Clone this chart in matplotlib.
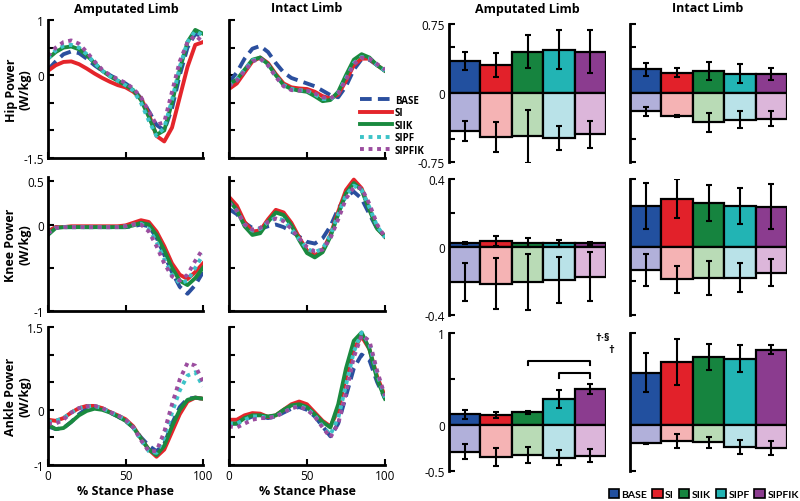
import numpy as np
import matplotlib.pyplot as plt
from matplotlib.patches import Patch

plt.rcParams['font.family'] = ['Open Sans', 'DejaVu Sans']

# data
pct = np.arange(0, 101, 5)
conds = ['BASE', 'SI', 'SIIK', 'SIPF', 'SIPFIK']

# line panels: one list per condition (BASE, SI, SIIK, SIPF, SIPFIK)
hip_amp = [
    [0.10, 0.25, 0.38, 0.43, 0.40, 0.30, 0.18, 0.08, 0.00, -0.08, -0.15, -0.25, -0.42, -0.65, -0.90, -1.00, -0.60, 0.00, 0.50, 0.75, 0.70],
    [0.08, 0.18, 0.24, 0.25, 0.20, 0.12, 0.03, -0.05, -0.12, -0.18, -0.22, -0.30, -0.42, -0.70, -1.10, -1.20, -0.95, -0.40, 0.15, 0.55, 0.60],
    [0.30, 0.42, 0.50, 0.52, 0.47, 0.36, 0.22, 0.08, -0.02, -0.10, -0.18, -0.27, -0.45, -0.75, -1.08, -1.00, -0.50, 0.10, 0.60, 0.82, 0.75],
    [0.30, 0.45, 0.53, 0.55, 0.50, 0.38, 0.22, 0.08, -0.02, -0.10, -0.18, -0.28, -0.50, -0.82, -1.10, -0.95, -0.45, 0.15, 0.60, 0.80, 0.72],
    [0.35, 0.50, 0.60, 0.63, 0.57, 0.42, 0.25, 0.10, 0.00, -0.07, -0.14, -0.24, -0.40, -0.65, -0.90, -0.85, -0.30, 0.25, 0.60, 0.72, 0.60],
]
hip_int = [
    [-0.13, 0.05, 0.30, 0.48, 0.53, 0.42, 0.22, 0.05, -0.05, -0.10, -0.15, -0.20, -0.28, -0.36, -0.40, -0.20, 0.10, 0.29, 0.28, 0.18, 0.08],
    [-0.25, -0.15, 0.05, 0.25, 0.32, 0.22, 0.02, -0.15, -0.22, -0.24, -0.25, -0.30, -0.38, -0.42, -0.35, -0.10, 0.18, 0.30, 0.30, 0.18, 0.08],
    [-0.16, -0.08, 0.10, 0.28, 0.32, 0.20, 0.00, -0.18, -0.25, -0.28, -0.30, -0.38, -0.47, -0.45, -0.30, 0.00, 0.28, 0.38, 0.32, 0.18, 0.08],
    [-0.18, -0.08, 0.10, 0.27, 0.30, 0.18, -0.02, -0.18, -0.25, -0.27, -0.28, -0.35, -0.43, -0.44, -0.32, -0.05, 0.22, 0.33, 0.30, 0.18, 0.08],
    [-0.20, -0.10, 0.08, 0.25, 0.30, 0.18, -0.03, -0.20, -0.27, -0.28, -0.28, -0.33, -0.40, -0.42, -0.33, -0.08, 0.20, 0.32, 0.30, 0.20, 0.10],
]
knee_amp = [
    [-0.08, -0.03, -0.03, -0.03, -0.03, -0.03, -0.03, -0.03, -0.03, -0.03, -0.03, -0.02, 0.00, -0.02, -0.15, -0.35, -0.55, -0.72, -0.80, -0.70, -0.55],
    [-0.08, -0.03, -0.03, -0.02, -0.02, -0.02, -0.02, -0.02, -0.02, -0.02, -0.01, 0.02, 0.05, 0.03, -0.08, -0.25, -0.45, -0.58, -0.63, -0.55, -0.45],
    [-0.12, -0.04, -0.03, -0.03, -0.03, -0.03, -0.03, -0.03, -0.03, -0.03, -0.03, -0.01, 0.02, 0.00, -0.12, -0.30, -0.50, -0.65, -0.70, -0.62, -0.50],
    [-0.10, -0.04, -0.03, -0.03, -0.03, -0.03, -0.03, -0.03, -0.03, -0.03, -0.02, 0.00, 0.01, -0.05, -0.20, -0.40, -0.58, -0.68, -0.65, -0.50, -0.35],
    [-0.10, -0.04, -0.03, -0.03, -0.03, -0.03, -0.03, -0.03, -0.03, -0.03, -0.02, 0.00, 0.00, -0.08, -0.25, -0.45, -0.60, -0.65, -0.58, -0.42, -0.28],
]
knee_int = [
    [0.18, 0.12, 0.02, -0.04, -0.05, -0.02, 0.00, -0.03, -0.08, -0.14, -0.20, -0.22, -0.16, -0.02, 0.18, 0.33, 0.38, 0.30, 0.12, -0.05, -0.13],
    [0.32, 0.22, 0.03, -0.08, -0.07, 0.06, 0.17, 0.14, 0.02, -0.15, -0.30, -0.36, -0.30, -0.12, 0.15, 0.40, 0.52, 0.42, 0.18, -0.04, -0.14],
    [0.28, 0.17, -0.02, -0.12, -0.10, 0.03, 0.14, 0.11, -0.01, -0.18, -0.33, -0.38, -0.32, -0.14, 0.12, 0.36, 0.48, 0.40, 0.17, -0.05, -0.14],
    [0.25, 0.16, 0.00, -0.07, -0.05, 0.03, 0.08, 0.05, -0.05, -0.17, -0.28, -0.32, -0.28, -0.12, 0.12, 0.34, 0.45, 0.40, 0.20, -0.02, -0.15],
    [0.25, 0.16, 0.00, -0.06, -0.04, 0.03, 0.07, 0.04, -0.05, -0.16, -0.26, -0.31, -0.29, -0.16, 0.06, 0.30, 0.43, 0.42, 0.24, 0.00, -0.15],
]
ankle_amp = [
    [-0.30, -0.35, -0.33, -0.22, -0.08, 0.02, 0.05, 0.02, -0.05, -0.12, -0.20, -0.32, -0.50, -0.65, -0.75, -0.62, -0.25, 0.05, 0.20, 0.22, 0.20],
    [-0.18, -0.20, -0.15, -0.05, 0.03, 0.07, 0.07, 0.03, -0.04, -0.10, -0.17, -0.30, -0.52, -0.72, -0.85, -0.72, -0.40, -0.08, 0.15, 0.22, 0.20],
    [-0.27, -0.35, -0.33, -0.22, -0.10, -0.02, 0.02, 0.00, -0.05, -0.12, -0.20, -0.32, -0.52, -0.72, -0.82, -0.65, -0.30, 0.00, 0.18, 0.22, 0.20],
    [-0.22, -0.20, -0.15, -0.05, 0.03, 0.06, 0.07, 0.03, -0.04, -0.10, -0.18, -0.32, -0.55, -0.75, -0.78, -0.50, -0.05, 0.35, 0.62, 0.68, 0.42],
    [-0.25, -0.25, -0.18, -0.05, 0.03, 0.06, 0.07, 0.03, -0.04, -0.10, -0.18, -0.32, -0.55, -0.75, -0.75, -0.40, 0.10, 0.55, 0.85, 0.80, 0.50],
]
ankle_int = [
    [-0.25, -0.25, -0.18, -0.12, -0.12, -0.15, -0.12, -0.05, 0.02, 0.05, 0.00, -0.12, -0.30, -0.48, -0.25, 0.25, 0.75, 1.00, 0.90, 0.50, 0.20],
    [-0.18, -0.18, -0.10, -0.06, -0.07, -0.13, -0.10, 0.00, 0.10, 0.15, 0.10, -0.05, -0.20, -0.30, 0.00, 0.60, 1.10, 1.33, 1.10, 0.60, 0.24],
    [-0.25, -0.25, -0.15, -0.10, -0.10, -0.12, -0.10, 0.00, 0.08, 0.10, 0.05, -0.08, -0.22, -0.32, 0.10, 0.75, 1.25, 1.40, 1.10, 0.55, 0.20],
    [-0.25, -0.25, -0.18, -0.12, -0.12, -0.15, -0.12, -0.05, 0.03, 0.07, 0.02, -0.10, -0.30, -0.45, -0.15, 0.45, 1.05, 1.40, 1.20, 0.65, 0.22],
    [-0.30, -0.32, -0.25, -0.18, -0.15, -0.15, -0.12, -0.05, 0.03, 0.06, 0.00, -0.12, -0.32, -0.50, -0.25, 0.30, 0.95, 1.35, 1.25, 0.70, 0.25],
]

# bar panels: positive / negative work and their error bars
hip_amp_pos = [0.35, 0.30, 0.45, 0.47, 0.45]
hip_amp_pos_err = [0.10, 0.13, 0.18, 0.21, 0.23]
hip_amp_neg = [-0.41, -0.48, -0.47, -0.49, -0.45]
hip_amp_neg_err = [0.11, 0.16, 0.29, 0.13, 0.15]
hip_int_pos = [0.26, 0.22, 0.24, 0.21, 0.21]
hip_int_pos_err = [0.07, 0.05, 0.10, 0.10, 0.065]
hip_int_neg = [-0.20, -0.25, -0.32, -0.29, -0.28]
hip_int_neg_err = [0.05, 0.01, 0.10, 0.09, 0.08]

knee_amp_pos = [0.022, 0.037, 0.025, 0.022, 0.022]
knee_amp_pos_err = [0.007, 0.03, 0.027, 0.02, 0.01]
knee_amp_neg = [-0.206, -0.216, -0.206, -0.194, -0.175]
knee_amp_neg_err = [0.11, 0.15, 0.167, 0.135, 0.145]
knee_int_pos = [0.241, 0.284, 0.257, 0.241, 0.237]
knee_int_pos_err = [0.137, 0.114, 0.106, 0.105, 0.134]
knee_int_neg = [-0.137, -0.19, -0.18, -0.18, -0.15]
knee_int_neg_err = [0.095, 0.08, 0.10, 0.086, 0.08]

ankle_amp_pos = [0.116, 0.11, 0.138, 0.28, 0.39]
ankle_amp_pos_err = [0.05, 0.035, 0.015, 0.10, 0.055]
ankle_amp_neg = [-0.29, -0.345, -0.327, -0.356, -0.335]
ankle_amp_neg_err = [0.08, 0.10, 0.09, 0.08, 0.07]
ankle_int_pos = [0.57, 0.69, 0.74, 0.72, 0.82]
ankle_int_pos_err = [0.21, 0.25, 0.145, 0.147, 0.047]
ankle_int_neg = [-0.20, -0.175, -0.19, -0.236, -0.247]
ankle_int_neg_err = [0.005, 0.08, 0.055, 0.078, 0.078]

line_colors = ['#2b4f9e', '#e4252b', '#1a8a3f', '#3cc3c8', '#9b4d9f']
line_styles = [(0, (3, 1.6)), '-', '-', (0, (1, 1.2)), (0, (1, 1.2))]
dark = ['#22509f', '#e2212a', '#16843f', '#22b4b4', '#8b3c8f']
light = ['#b1b0da', '#f5b3b4', '#b9dbb6', '#b9e2e8', '#dcb6da']

W, H = 800, 502
fig = plt.figure(figsize=(W / 100, H / 100), dpi=100)


def px_axes(left, top, right, bottom):
    return fig.add_axes([left / W, 1 - bottom / H, (right - left) / W, (bottom - top) / H])


def line_panel(ax, series, ylim, yticks, ylabels, xlabels):
    for s, c, ls, name in zip(series, line_colors, line_styles, conds):
        ax.plot(pct, s, color=c, linestyle=ls, linewidth=2.8, label=name)
    ax.set_xlim(0, 100)
    ax.set_ylim(*ylim)
    ax.set_xticks([0, 50, 100])
    ax.set_yticks(yticks)
    ax.set_yticklabels(ylabels)
    if not xlabels:
        ax.set_xticklabels([])
    for sp in ['top', 'right']:
        ax.spines[sp].set_visible(False)
    for sp in ['left', 'bottom']:
        ax.spines[sp].set_linewidth(2)
    ax.tick_params(direction='in', length=4, width=1.5, labelsize=8.5, pad=3)


def bar_panel(ax, pos, pos_err, neg, neg_err, ylim, yticks, ylabels):
    x = np.arange(5)
    ax.bar(x, pos, width=1, color=dark, edgecolor='black', linewidth=1.6, zorder=2)
    ax.bar(x, neg, width=1, color=light, edgecolor='black', linewidth=1.6, zorder=2)
    ax.errorbar(x, pos, yerr=pos_err, fmt='none', ecolor='black', elinewidth=1.5,
                capsize=2.2, capthick=1.5, zorder=3)
    ax.errorbar(x, neg, yerr=neg_err, fmt='none', ecolor='black', elinewidth=1.5,
                capsize=2.2, capthick=1.5, zorder=3)
    ax.set_xlim(-0.5, 4.5)
    ax.set_ylim(*ylim)
    ax.set_xticks([])
    ax.set_yticks(yticks)
    ax.set_yticklabels(ylabels)
    for sp in ['top', 'right', 'bottom']:
        ax.spines[sp].set_visible(False)
    ax.spines['left'].set_linewidth(2)
    ax.tick_params(direction='in', length=4, width=1.5, labelsize=8.5, pad=3)


# column / row positions in pixels
line_cols = [(48, 203), (229, 385)]
bar_cols = [(449, 606), (630, 787)]
line_rows = [(21, 159), (178, 312), (328, 466)]
bar_rows = [(25, 163), (180, 316), (334, 472)]

line_data = [(hip_amp, hip_int), (knee_amp, knee_int), (ankle_amp, ankle_int)]
line_lims = [(-1.5, 1.0), (-1.0, 0.55), (-1.0, 1.5)]
line_ticks = [[1, 0.5, 0, -0.5, -1, -1.5], [0.5, 0, -0.5, -1], [1.5, 1, 0.5, 0, -0.5, -1]]
line_labels = [['1', '', '0', '', '', '-1.5'], ['0.5', '0', '', '-1'], ['1.5', '', '', '0', '', '-1']]

bar_data = [
    ((hip_amp_pos, hip_amp_pos_err, hip_amp_neg, hip_amp_neg_err),
     (hip_int_pos, hip_int_pos_err, hip_int_neg, hip_int_neg_err)),
    ((knee_amp_pos, knee_amp_pos_err, knee_amp_neg, knee_amp_neg_err),
     (knee_int_pos, knee_int_pos_err, knee_int_neg, knee_int_neg_err)),
    ((ankle_amp_pos, ankle_amp_pos_err, ankle_amp_neg, ankle_amp_neg_err),
     (ankle_int_pos, ankle_int_pos_err, ankle_int_neg, ankle_int_neg_err)),
]
bar_lims = [(-0.75, 0.75), (-0.4, 0.4), (-0.5, 1.0)]
bar_ticks = [[0.75, 0.5, 0, -0.5, -0.75], [0.4, 0.2, 0, -0.2, -0.4], [1, 0.5, 0, -0.5]]
bar_labels = [['0.75', '', '0', '', '-0.75'], ['0.4', '', '0', '', '-0.4'], ['1', '', '0', '-0.5']]
row_names = ['Hip Power\n(W/kg)', 'Knee Power\n(W/kg)', 'Ankle Power\n(W/kg)']

axes = {}
for r in range(3):
    for c in range(2):
        ax = px_axes(line_cols[c][0], line_rows[r][0], line_cols[c][1], line_rows[r][1])
        labels = line_labels[r] if c == 0 else [''] * len(line_ticks[r])
        line_panel(ax, line_data[r][c], line_lims[r], line_ticks[r], labels, r == 2)
        axes[('line', r, c)] = ax
        if r == 2:
            ax.set_xlabel('% Stance Phase', fontsize=9, fontweight='bold', labelpad=1)
    for c in range(2):
        ax = px_axes(bar_cols[c][0], bar_rows[r][0], bar_cols[c][1], bar_rows[r][1])
        labels = bar_labels[r] if c == 0 else [''] * len(bar_ticks[r])
        bar_panel(ax, *bar_data[r][c], bar_lims[r], bar_ticks[r], labels)
        axes[('bar', r, c)] = ax
    fig.text(18 / W, 1 - (line_rows[r][0] + line_rows[r][1]) / 2 / H, row_names[r],
             rotation=90, ha='center', va='center', fontsize=9, fontweight='bold',
             linespacing=1.1)

# column titles
for x, t in [(126, 'Amputated Limb'), (307, 'Intact Limb'), (527, 'Amputated Limb'), (708, 'Intact Limb')]:
    fig.text(x / W, 1 - 9 / H, t, ha='center', va='center', fontsize=9, fontweight='bold')

# legend for the curves
axes[('line', 0, 1)].legend(loc='upper left', bbox_to_anchor=(355 / W, 1 - 91 / H),
                            bbox_transform=fig.transFigure, frameon=False,
                            handlelength=3.3, handletextpad=0.3, labelspacing=0.15,
                            borderpad=0, prop={'size': 7, 'weight': 'bold'})

# significance brackets on the ankle amputated bars
ax = axes[('bar', 2, 0)]
ax.plot([2, 2, 4, 4], [0.65, 0.70, 0.70, 0.65], color='black', linewidth=1.5, clip_on=False)
ax.plot([3, 3, 4, 4], [0.51, 0.565, 0.565, 0.51], color='black', linewidth=1.5, clip_on=False)
ax.text(4.4, 0.95, '\u2020\u00b7\u00a7', ha='center', va='center', fontsize=8, fontweight='bold', clip_on=False)
ax.text(4.66, 0.82, '\u2020', ha='center', va='center', fontsize=8, fontweight='bold', clip_on=False)

# legend for the bars
handles = [Patch(facecolor=c, edgecolor='black', linewidth=1.2, label=n) for c, n in zip(dark, conds)]
fig.legend(handles=handles, loc='center right', bbox_to_anchor=(799 / W, 1 - 495 / H), ncol=5,
           frameon=False, handlelength=1.0, handleheight=1.0, handletextpad=0.25,
           columnspacing=0.45, borderpad=0, borderaxespad=0,
           prop={'family': 'Lato', 'size': 7.5, 'weight': 'bold'})

fig.savefig('out.png', dpi=100)
